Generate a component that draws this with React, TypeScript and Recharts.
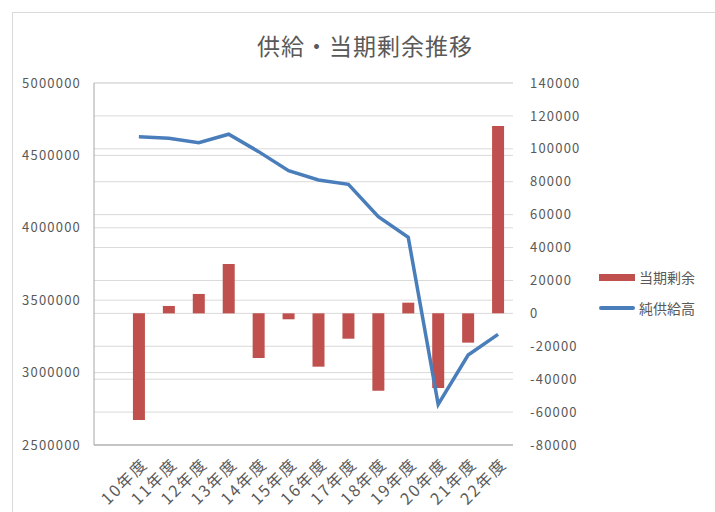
import {
  ComposedChart,
  Bar,
  Line,
  XAxis,
  YAxis,
  CartesianGrid,
  Legend,
} from 'recharts';

// leading blank slot: the reference leaves one empty category before 10年度
const years = ['', '10年度', '11年度', '12年度', '13年度', '14年度', '15年度', '16年度', '17年度', '18年度', '19年度', '20年度', '21年度', '22年度'];
const surplus = [null, -64800, 4500, 11800, 30000, -27100, -3600, -32400, -15400, -47000, 6500, -45300, -17800, 113900];
const netSupply = [null, 4629000, 4618000, 4588000, 4646000, 4526000, 4394000, 4330000, 4300000, 4077000, 3934000, 2781000, 3121000, 3264000];

const leftTicks = [2500000, 3000000, 3500000, 4000000, 4500000, 5000000];
const rightTicks = [-80000, -60000, -40000, -20000, 0, 20000, 40000, 60000, 80000, 100000, 120000, 140000];

const data = years.map((y, i) => ({
  year: y,
  surplus: surplus[i],
  netSupply: netSupply[i],
}));

const FONT = '"Noto Sans CJK JP", "Noto Sans", sans-serif';
const TEXT = '#595959';
const RED = '#C0504D';
const BLUE = '#4A7EBB';

type TickProps = {
  x?: number;
  y?: number;
  payload?: { value?: string };
};

function YearTick({ x = 0, y = 0, payload }: TickProps) {
  return (
    <g transform={`translate(${x + 6},${y + 8})`}>
      <text
        transform="rotate(-45)"
        textAnchor="end"
        dy="0.35em"
        fill={TEXT}
        fontSize={16}
        letterSpacing={2}
        fontFamily={FONT}
      >
        {payload?.value}
      </text>
    </g>
  );
}

type LegendEntry = { value?: string; color?: string; type?: string };

function SideLegend({ payload }: { payload?: LegendEntry[] }) {
  return (
    <div style={{ display: 'flex', flexDirection: 'column', gap: '11px' }}>
      {(payload ?? []).map((e, i) => (
        <div key={i} style={{ display: 'flex', alignItems: 'center', gap: '4px' }}>
          <div
            style={{
              width: '36px',
              height: e.type === 'line' ? '4px' : '7px',
              borderRadius: e.type === 'line' ? '2px' : 0,
              background: e.color,
            }}
          />
          <span style={{ fontSize: '14px', color: TEXT, fontFamily: FONT, lineHeight: '20px' }}>
            {e.value}
          </span>
        </div>
      ))}
    </div>
  );
}

export default function App() {
  return (
    <div
      style={{
        position: 'absolute',
        left: 0,
        top: 0,
        width: '715px',
        height: '512px',
        overflow: 'hidden',
        background: '#fff',
      }}
    >
      {/* chart area frame */}
      <div
        style={{
          position: 'absolute',
          left: '12px',
          top: '12px',
          width: '800px',
          height: '600px',
          border: '1px solid #d9d9d9',
        }}
      />
      {/* title */}
      <div
        style={{
          position: 'absolute',
          left: 0,
          top: '28px',
          width: '730px',
          textAlign: 'center',
          fontFamily: FONT,
          fontSize: '23px',
          letterSpacing: '1px',
          color: TEXT,
        }}
      >
        供給・当期剰余推移
      </div>
      <div style={{ position: 'absolute', left: 0, top: 0 }}>
        <ComposedChart
          width={715}
          height={512}
          data={data}
          margin={{ top: 83, right: 0, bottom: 0, left: 0 }}
        >
          <CartesianGrid yAxisId="left" vertical={false} stroke="#d9d9d9" />
          <CartesianGrid yAxisId="right" vertical={false} stroke="#d9d9d9" />
          <XAxis
            dataKey="year"
            height={67}
            interval={0}
            tickLine={false}
            axisLine={{ stroke: '#a6a6a6' }}
            tick={<YearTick />}
          />
          <YAxis
            yAxisId="left"
            width={94}
            domain={[2500000, 5000000]}
            ticks={leftTicks}
            tickLine={false}
            axisLine={{ stroke: '#a6a6a6' }}
            tickSize={0}
            tickMargin={13}
            tick={{ fill: TEXT, fontSize: 13, fontFamily: FONT, letterSpacing: 1.2 }}
            allowDataOverflow
          />
          <YAxis
            yAxisId="right"
            orientation="right"
            width={202}
            domain={[-80000, 140000]}
            ticks={rightTicks}
            tickLine={false}
            axisLine={false}
            tickSize={0}
            tickMargin={17}
            tick={{ fill: TEXT, fontSize: 13, fontFamily: FONT, letterSpacing: 1.2 }}
            allowDataOverflow
          />
          <Bar
            yAxisId="right"
            dataKey="surplus"
            name="当期剰余"
            fill={RED}
            barSize={12}
            isAnimationActive={false}
          />
          <Line
            yAxisId="left"
            dataKey="netSupply"
            name="純供給高"
            stroke={BLUE}
            strokeWidth={3.5}
            dot={false}
            activeDot={false}
            isAnimationActive={false}
          />
          <Legend
            layout="vertical"
            align="center"
            verticalAlign="middle"
            content={<SideLegend />}
            wrapperStyle={{ left: 599, top: 267, width: 116 }}
          />
        </ComposedChart>
      </div>
    </div>
  );
}
